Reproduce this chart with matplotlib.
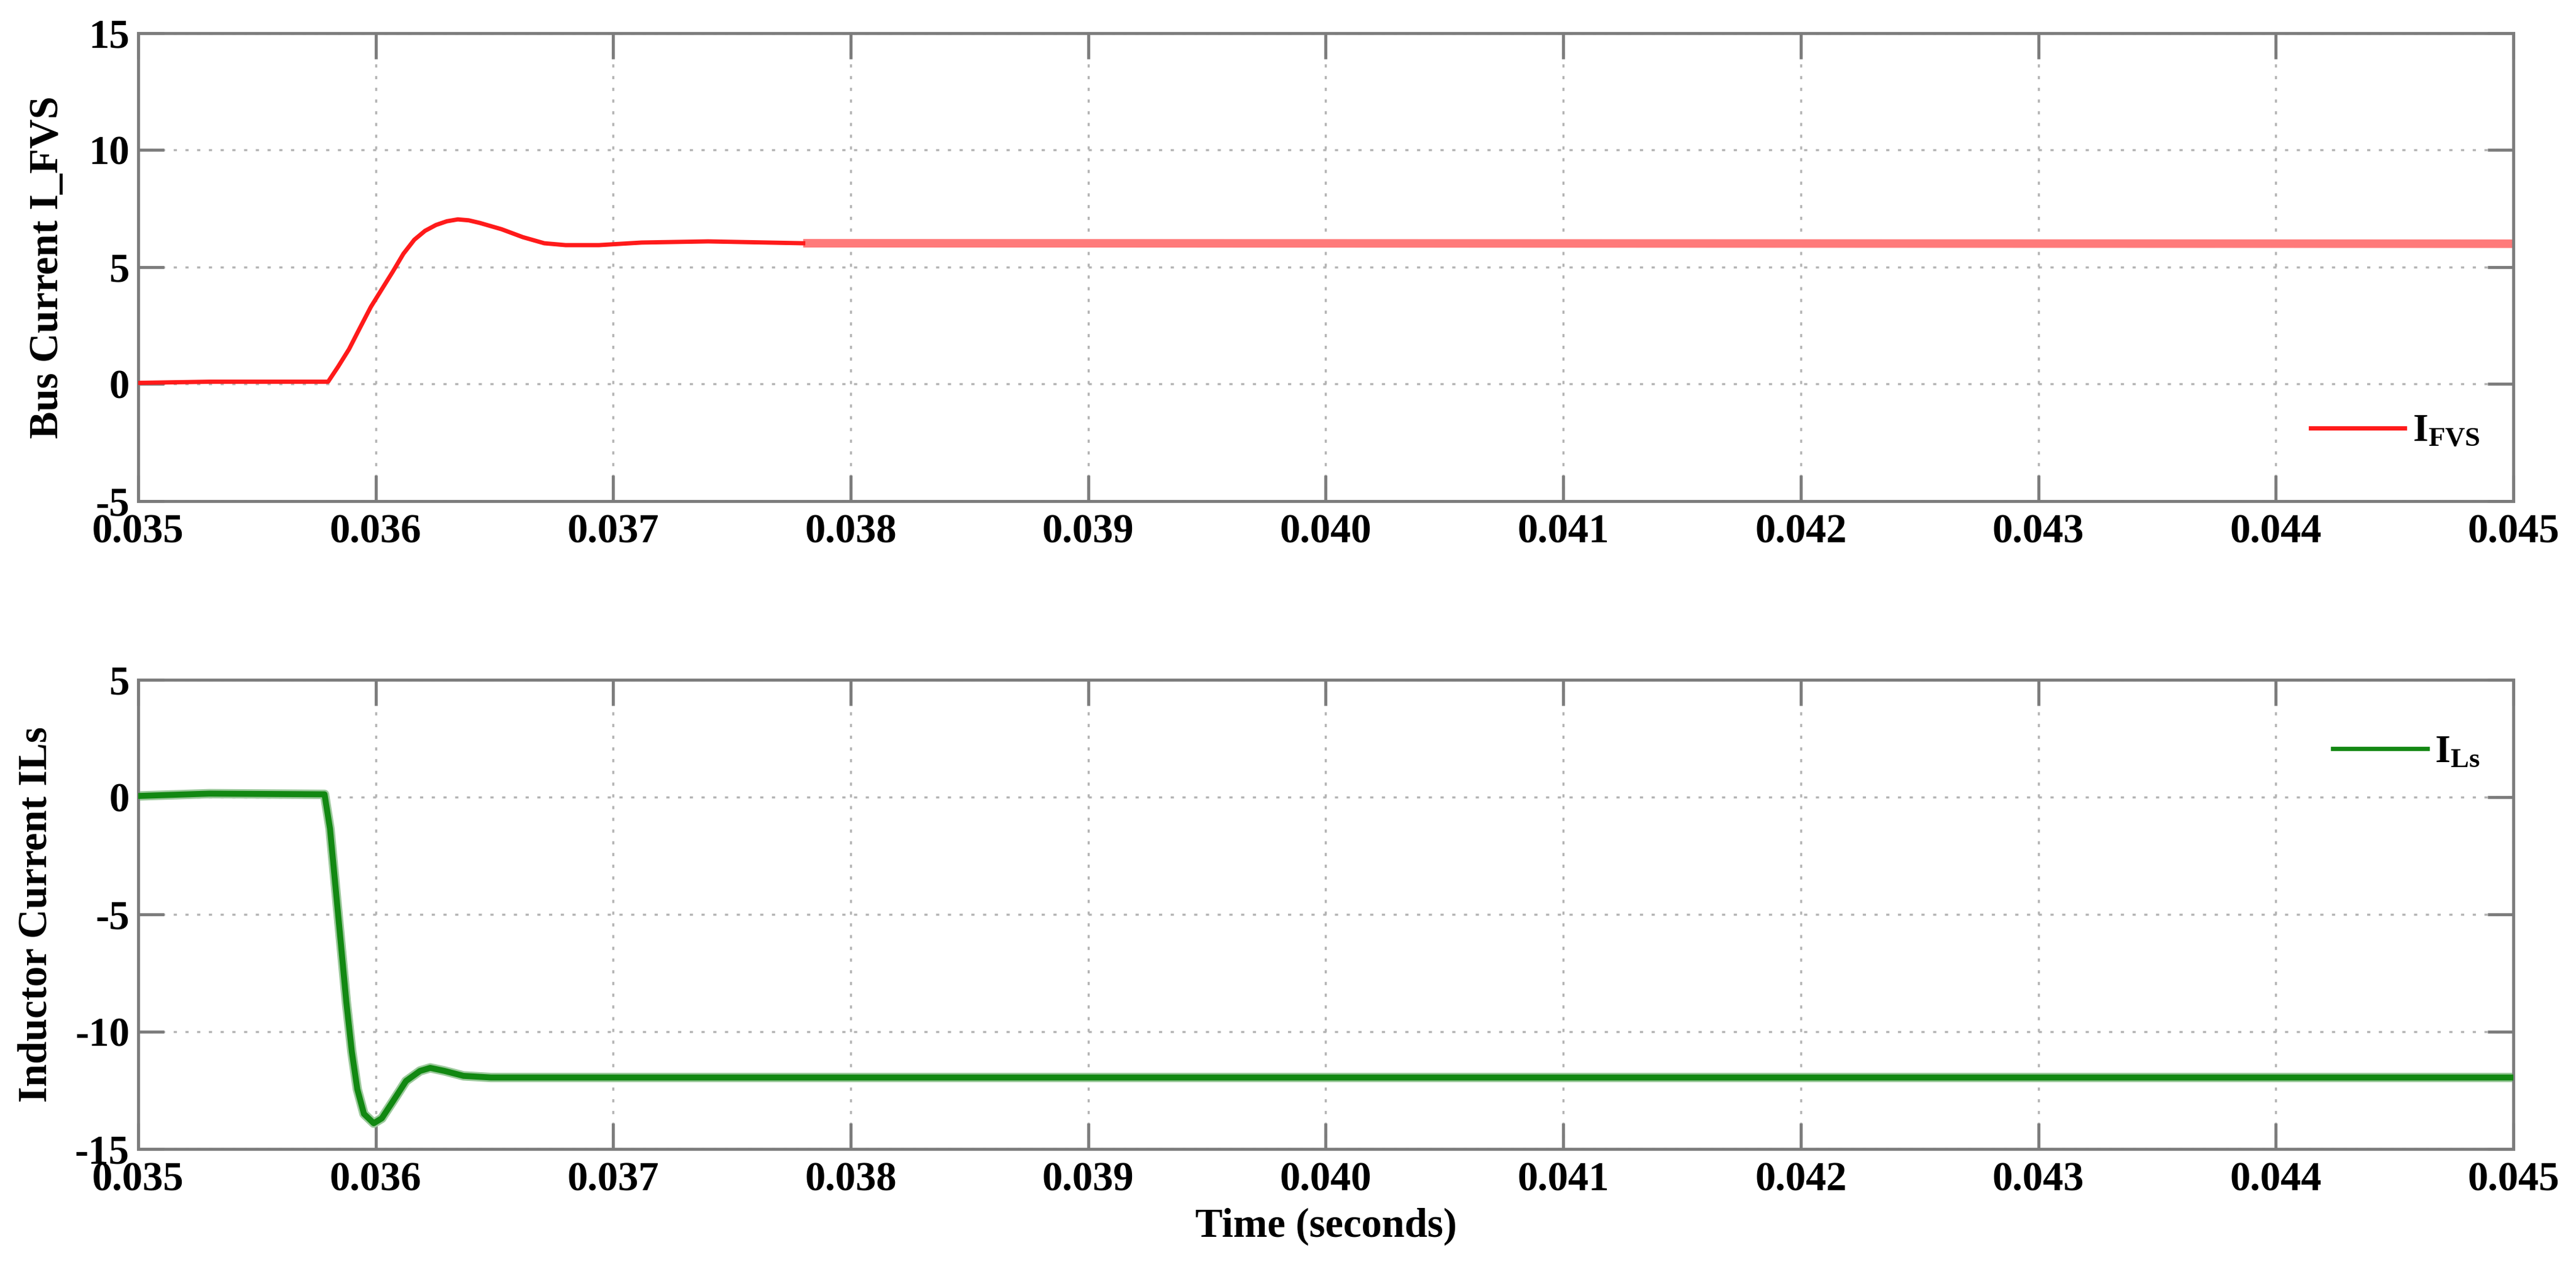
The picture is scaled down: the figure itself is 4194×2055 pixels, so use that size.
import matplotlib
matplotlib.use("Agg")
import matplotlib.pyplot as plt
import numpy as np

plt.rcParams['font.family'] = ['Liberation Serif', 'DejaVu Serif']
plt.rcParams['font.weight'] = 'bold'
plt.rcParams['mathtext.fontset'] = 'custom'
plt.rcParams['mathtext.rm'] = 'Liberation Serif:bold'
plt.rcParams['mathtext.it'] = 'Liberation Serif:bold'
plt.rcParams['mathtext.bf'] = 'Liberation Serif:bold'

# ---- data ----
t_bus = [0.03500, 0.03530, 0.03580, 0.035842, 0.035888, 0.035934, 0.035980, 0.036026,
         0.036072, 0.036117, 0.036163, 0.036208, 0.036254, 0.036300, 0.036346, 0.036392,
         0.036438, 0.036530, 0.036620, 0.036710, 0.036800, 0.036940, 0.037120, 0.037400,
         0.037800, 0.045000]
i_bus = [0.05, 0.10, 0.10, 0.74, 1.49, 2.40, 3.30, 4.05,
         4.80, 5.57, 6.17, 6.55, 6.80, 6.96, 7.04, 7.00,
         6.89, 6.62, 6.28, 6.02, 5.94, 5.94, 6.05, 6.10,
         6.02, 6.00]

t_ind = [0.03500, 0.03530, 0.035785, 0.035808, 0.035831, 0.035854, 0.035877, 0.035900,
         0.035923, 0.035951, 0.035992, 0.036026, 0.036072, 0.036128, 0.036187, 0.036230,
         0.036290, 0.036370, 0.036485, 0.045000]
i_ind = [0.05, 0.15, 0.12, -1.34, -3.80, -6.27, -8.76, -10.86,
         -12.45, -13.50, -13.90, -13.69, -12.98, -12.10, -11.67, -11.54,
         -11.67, -11.88, -11.95, -11.95]

x_ticks = [0.035, 0.036, 0.037, 0.038, 0.039, 0.040, 0.041, 0.042, 0.043, 0.044, 0.045]
x_ticklabels = ['0.035', '0.036', '0.037', '0.038', '0.039', '0.040',
                '0.041', '0.042', '0.043', '0.044', '0.045']
y_ticks_top = [-5, 0, 5, 10, 15]
y_ticks_bot = [-15, -10, -5, 0, 5]

fig = plt.figure(figsize=(41.94, 20.55), dpi=100)
ax1 = fig.add_axes([0.0536, 0.603, 0.9221, 0.3707])
ax2 = fig.add_axes([0.0536, 0.0895, 0.9221, 0.3718])

spine_col = '#7c7c7c'
FS = 48

def style(ax, yticks):
    ax.set_xlim(0.035, 0.045)
    ax.set_ylim(yticks[0], yticks[-1])
    ax.set_xticks(x_ticks)
    ax.set_xticklabels(x_ticklabels)
    ax.set_yticks(yticks)
    ax.set_yticklabels([str(v) for v in yticks])
    for s in ax.spines.values():
        s.set_color(spine_col)
        s.set_linewidth(3.5)
    ax.tick_params(direction='in', length=30, width=3.5, color=spine_col,
                   top=True, right=True, labelsize=FS, labelcolor='black')
    ax.tick_params(axis='x', pad=15)
    ax.tick_params(axis='y', pad=10)
    ax.grid(True, color='#b4b4b4', linewidth=2.5, linestyle=(0, (1.5, 4)))
    ax.set_axisbelow(True)

style(ax1, y_ticks_top)
style(ax2, y_ticks_bot)

# top: bus current
t_b = np.array(t_bus); i_b = np.array(i_bus)
steady = t_b >= 0.0378
early = t_b <= 0.0378
ax1.plot(t_b[steady], i_b[steady], color='#ff7a7a', linewidth=10, solid_capstyle='butt', zorder=2)
ax1.plot(t_b[early], i_b[early], color='#ff1a1a', linewidth=5, zorder=3, label='I$_{\\mathrm{FVS}}$')

# bottom: inductor current
ax2.plot(t_ind, i_ind, color='#9cc99c', linewidth=11, zorder=2)
ax2.plot(t_ind, i_ind, color='#128812', linewidth=7, zorder=3, label='I$_{\\mathrm{Ls}}$')

ax1.set_ylabel('Bus Current I_FVS', fontsize=FS, fontweight='bold', va='center')
ax1.yaxis.set_label_coords(-0.038, 0.5)
ax2.set_ylabel('Inductor Current ILs', fontsize=FS, fontweight='bold', va='center')
ax2.yaxis.set_label_coords(-0.043, 0.5)
ax2.set_xlabel('Time (seconds)', fontsize=FS, fontweight='bold', labelpad=10)

leg1 = ax1.legend(loc='center right', bbox_to_anchor=(0.986, 0.147), frameon=False,
                  fontsize=46, handlelength=2.4, handletextpad=0.2, borderaxespad=0, borderpad=0)
leg2 = ax2.legend(loc='center right', bbox_to_anchor=(0.986, 0.844), frameon=False,
                  fontsize=46, handlelength=2.4, handletextpad=0.2, borderaxespad=0, borderpad=0)
leg2.legend_handles[0].set_linewidth(5)
leg2.legend_handles[0].set_color('#128812')

fig.savefig('out.png', dpi=100, facecolor='white')
